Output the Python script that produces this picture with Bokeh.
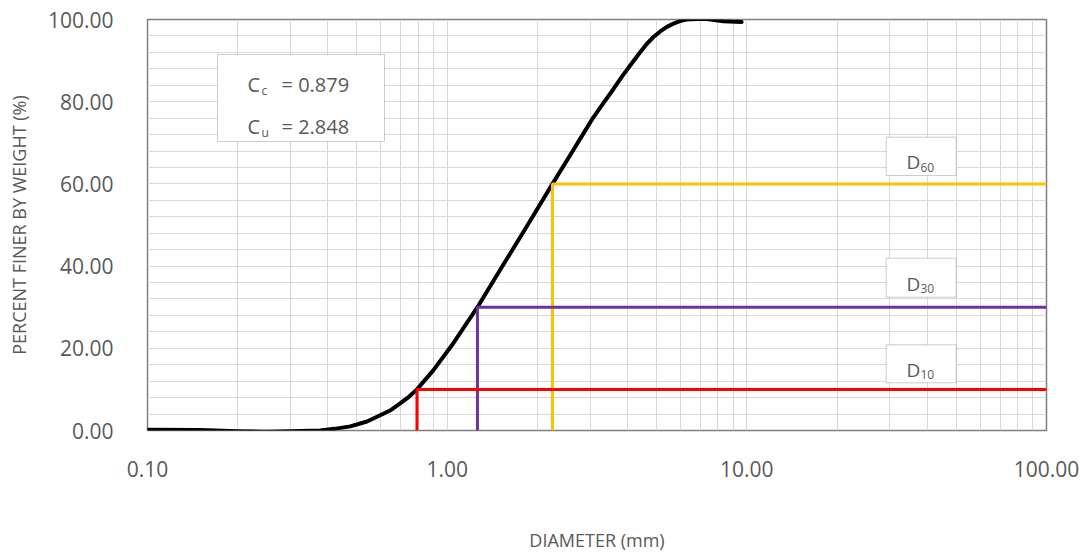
from bokeh.plotting import figure
from bokeh.models import Range1d, FixedTicker, PrintfTickFormatter, BoxAnnotation, Label
from bokeh.embed import file_html
from bokeh.resources import INLINE

# ---- data ----
diameter_mm = [0.100, 0.150, 0.200, 0.250, 0.300, 0.377, 0.420, 0.475, 0.540, 0.598, 0.650,
               0.697, 0.745, 0.793, 0.900, 1.050, 1.262, 1.503, 1.845, 2.246, 2.640,
               2.850, 3.076, 3.330, 3.590, 3.830, 4.080, 4.360, 4.640, 4.890, 5.140,
               5.410, 5.690, 5.980, 6.280, 6.800, 7.350, 8.350, 9.610]
percent_finer = [0.2, 0.1, -0.2, -0.3, -0.2, 0.0, 0.4, 1.0, 2.2, 3.7, 5.0,
                 6.6, 8.2, 10.0, 14.7, 21.3, 30.0, 39.1, 49.7, 60.0, 68.3,
                 72.3, 76.2, 79.8, 83.1, 86.1, 88.8, 91.6, 94.1, 95.8, 97.1,
                 98.2, 99.0, 99.6, 100.0, 100.1, 100.1, 99.6, 99.4]

d_names = ["60", "30", "10"]
d_sizes = [2.246, 1.262, 0.793]
d_levels = [60, 30, 10]
d_colors = ["#FFC000", "#7030A0", "#FF0000"]

cc_value = "0.879"
cu_value = "2.848"

x_major = [0.1, 1, 10, 100]
x_minor = [0.2, 0.3, 0.4, 0.5, 0.6, 0.7, 0.8, 0.9,
           2, 3, 4, 5, 6, 7, 8, 9,
           20, 30, 40, 50, 60, 70, 80, 90]
y_major = [0, 20, 40, 60, 80, 100]
y_minor = [4, 8, 12, 16, 24, 28, 32, 36, 44, 48, 52, 56, 64, 68, 72, 76, 84, 88, 92, 96]

X_MIN, X_MAX = 0.1, 100
Y_MIN, Y_MAX = 0, 100

# ---- layout (pixel positions of the plot frame) ----
W, H = 1087, 554
FL, FR, FT, FB = 147, 1046, 19, 430
TEXT = "#595959"
FONT = "Open Sans"


def dx(px):
    return 10 ** (-1 + 3 * (px - FL) / (FR - FL))


def dy(py):
    return 100 * (FB - py) / (FB - FT)


p = figure(width=W, height=H, x_axis_type="log",
           x_range=Range1d(X_MIN, X_MAX), y_range=Range1d(Y_MIN, Y_MAX),
           output_backend="svg", toolbar_location=None,
           min_border_left=FL, min_border_right=W - FR,
           min_border_top=FT, min_border_bottom=H - FB)

p.background_fill_color = "white"
p.border_fill_color = "white"
p.outline_line_color = "#7f7f7f"
p.outline_line_width = 1.5

p.xaxis.ticker = FixedTicker(ticks=x_major, minor_ticks=x_minor)
p.yaxis.ticker = FixedTicker(ticks=y_major, minor_ticks=y_minor)
p.xaxis.formatter = PrintfTickFormatter(format="%.2f")
p.yaxis.formatter = PrintfTickFormatter(format="%.2f")

for ax in (p.xaxis, p.yaxis):
    ax.axis_line_color = None
    ax.major_tick_line_color = None
    ax.minor_tick_line_color = None
    ax.major_tick_out = 0
    ax.minor_tick_out = 0
    ax.major_label_text_font = FONT
    ax.major_label_text_font_size = "21px"
    ax.major_label_text_color = TEXT
    ax.axis_label_text_font = FONT
    ax.axis_label_text_font_size = "18px"
    ax.axis_label_text_font_style = "normal"
    ax.axis_label_text_color = TEXT

p.xaxis.axis_label = "DIAMETER (mm)"
p.yaxis.axis_label = "PERCENT FINER BY WEIGHT (%)"
p.xaxis.major_label_standoff = 30
p.xaxis.axis_label_standoff = 48
p.yaxis.major_label_standoff = 34
p.yaxis.axis_label_standoff = 14

for g in (p.xgrid, p.ygrid):
    g.grid_line_color = "#d9d9d9"
    g.grid_line_width = 1
    g.minor_grid_line_color = "#d9d9d9"
    g.minor_grid_line_width = 1

# gradation curve
p.line(diameter_mm, percent_finer, line_color="black", line_width=4, line_join="round", line_cap="round")

# D10 / D30 / D60 guide lines
for d, lvl, col in zip(d_sizes, d_levels, d_colors):
    p.line([d, d, X_MAX], [Y_MIN, lvl, lvl], line_color=col, line_width=3)

# coefficient box
p.add_layout(BoxAnnotation(left=dx(217), right=dx(384), top=dy(54), bottom=dy(141),
                           fill_color="white", fill_alpha=1,
                           line_color=TEXT, line_width=1, level="annotation"))


def lab(px, py, text, size):
    p.add_layout(Label(x=dx(px), y=dy(py), text=text, text_font=FONT,
                       text_font_size=size, text_color=TEXT,
                       text_align="left", text_baseline="alphabetic"))


lab(247, 83.5, "C", "20px")
lab(261, 90, "c", "12px")
lab(281, 83.5, "= " + cc_value, "20px")
lab(247, 125.5, "C", "20px")
lab(261, 132, "u", "12px")
lab(281, 125.5, "= " + cu_value, "20px")

# D label boxes
box_tops = [136.7, 257.7, 344.3]
box_bottoms = [175, 296.7, 382.3]
baselines = [161.7, 283.3, 369.3]
for name, bt, bb, bl in zip(d_names, box_tops, box_bottoms, baselines):
    p.add_layout(BoxAnnotation(left=dx(885.7), right=dx(955.7), top=dy(bt), bottom=dy(bb),
                               fill_color="white", fill_alpha=1,
                               line_color=TEXT, line_width=1, level="annotation"))
    lab(906, bl, "D", "19px")
    lab(920, bl + 5, name, "12px")

open("out.html", "w").write(file_html(p, INLINE))
